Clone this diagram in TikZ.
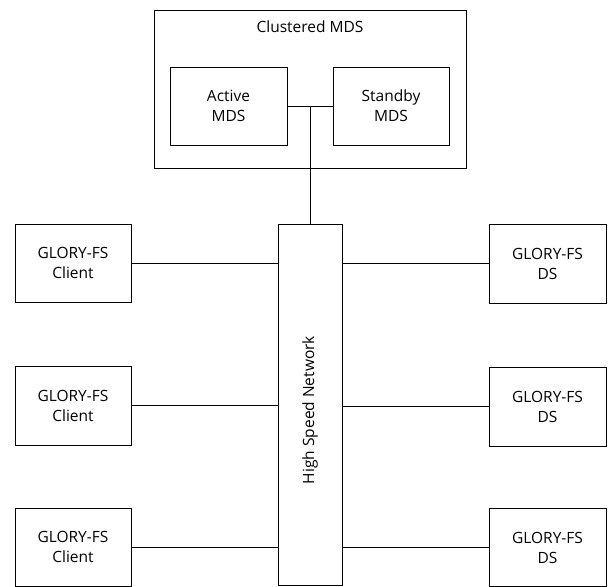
\documentclass[tikz,border=0pt]{standalone}
\usepackage{fontspec}
\setmainfont{Open Sans}
\begin{document}
\begin{tikzpicture}[x=1pt,y=-1pt,
  box/.style={draw=black,line width=0.9pt,rectangle,inner sep=0pt,align=center,
    font=\fontsize{15.5}{20}\selectfont},
  link/.style={draw=black,line width=0.9pt},
  lbl/.style={font=\fontsize{15.5}{20}\selectfont,inner sep=0pt}]
\useasboundingbox (0,0) rectangle (610,586);
% clustered MDS
\node[box,minimum width=312pt,minimum height=158pt] (outer) at (310,89) {};
\node[lbl] (otitle) at (310,27) {Clustered MDS};
\node[box,minimum width=117pt,minimum height=78pt] (act) at (228.5,106) {Active\\MDS};
\node[box,minimum width=116pt,minimum height=78pt] (stb) at (391,106) {Standby\\MDS};
% network
\node[box,minimum width=64pt,minimum height=361pt] (net) at (310,404.5) {};
\node[lbl,rotate=90] (netl) at (310,410) {High Speed Network};
% clients
\node[box,minimum width=116pt,minimum height=78pt] (c1) at (73,263) {GLORY-FS\\Client};
\node[box,minimum width=116pt,minimum height=79pt] (c2) at (73,405.5) {GLORY-FS\\Client};
\node[box,minimum width=116pt,minimum height=78pt] (c3) at (73,547) {GLORY-FS\\Client};
% data servers
\node[box,minimum width=117pt,minimum height=79pt] (d1) at (547.5,263.5) {GLORY-FS\\DS};
\node[box,minimum width=117pt,minimum height=79pt] (d2) at (547.5,406.5) {GLORY-FS\\DS};
\node[box,minimum width=117pt,minimum height=78pt] (d3) at (547.5,547.5) {GLORY-FS\\DS};
% connectors
\draw[link] (act.east) -- (stb.west);
\draw[link] (act.east -| net.north) -- (net.north);
\foreach \n in {c1,c2,c3}{\draw[link] (\n.east) -- (\n.east -| net.west);}
\foreach \n in {d1,d2,d3}{\draw[link] (\n.west) -- (\n.west -| net.east);}
\end{tikzpicture}
\end{document}
